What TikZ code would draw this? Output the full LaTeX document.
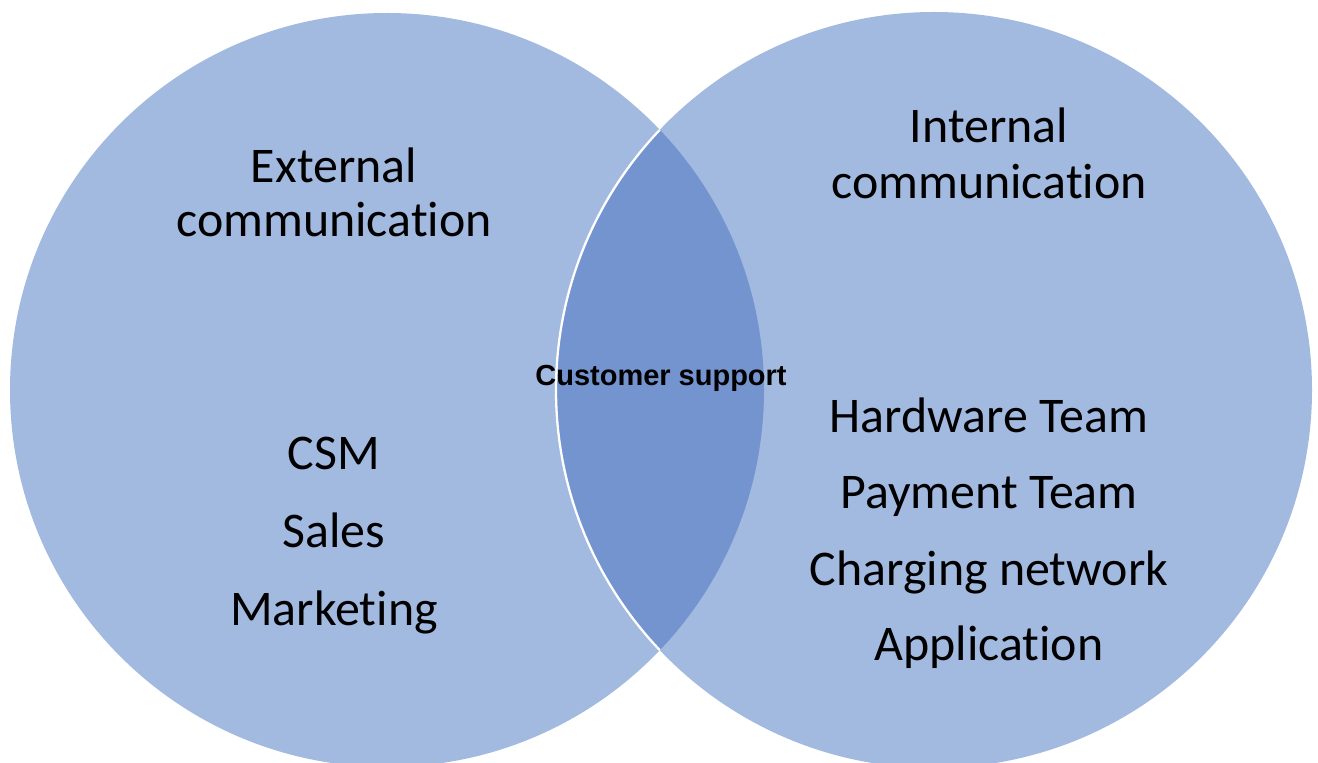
\documentclass[tikz,border=0pt]{standalone}
\usepackage{fontspec}
\setmainfont{Carlito}[Ligatures={NoCommon,NoContextual}]
\newfontfamily\labelsans{Liberation Sans}
\begin{document}
\begin{tikzpicture}[x=0.02cm,y=-0.02cm,
  setfill/.style={fill=vennlight},
  lensfill/.style={fill=venndark},
  bigtext/.style={font=\fontsize{28.4pt}{30pt}\selectfont, anchor=base, inner sep=0pt},
  smalltext/.style={font=\labelsans\bfseries\fontsize{16.5pt}{18pt}\selectfont, anchor=base, inner sep=0pt}]
\definecolor{vennlight}{HTML}{A2B9E0}
\definecolor{venndark}{HTML}{7394CF}
\useasboundingbox (0,0) rectangle (1318,763);
\clip (0,0) rectangle (1318,763);
% the two sets
\coordinate (L) at (387,390);
\coordinate (R) at (934,390);
\fill[setfill] (L) circle[radius=377];
\fill[setfill] (R) circle[radius=378];
% their overlap
\begin{scope}
  \clip (L) circle[radius=377];
  \fill[lensfill] (R) circle[radius=378];
  \draw[white, line width=1.3pt] (R) circle[radius=378];
\end{scope}
% labels
\node[bigtext] (ext1) at (334,183) {External};
\node[bigtext] (ext2) at (334,237) {communication};
\node[bigtext] (csm) at (334,469) {CSM};
\node[bigtext] (sales) at (334,547) {Sales};
\node[bigtext] (mkt) at (334,625) {Marketing};
\node[bigtext] (int1) at (989,143) {Internal};
\node[bigtext] (int2) at (989,199) {communication};
\node[bigtext] (hw) at (989,432) {Hardware Team};
\node[bigtext] (pay) at (989,508) {Payment Team};
\node[bigtext] (chg) at (989,585) {Charging network};
\node[bigtext] (app) at (989,660) {Application};
\node[smalltext] (cs) at (661,385) {Customer support};
\end{tikzpicture}
\end{document}
